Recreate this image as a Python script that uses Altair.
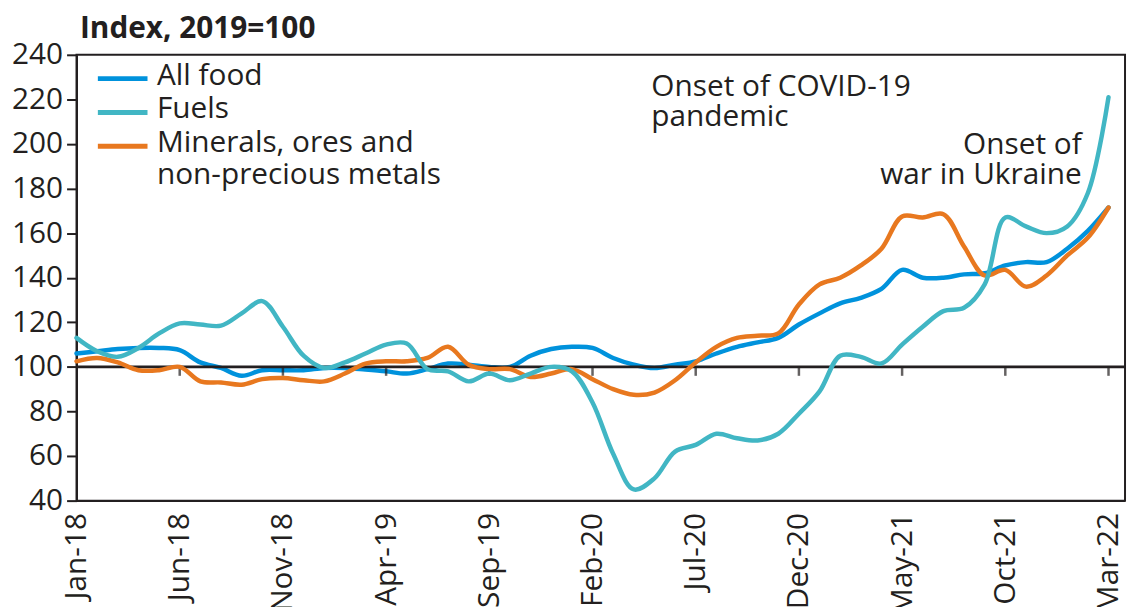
import json
import altair as alt
import pandas as pd

months = [
    "Jan-18", "Feb-18", "Mar-18", "Apr-18", "May-18", "Jun-18", "Jul-18", "Aug-18", "Sep-18", "Oct-18", "Nov-18", "Dec-18",
    "Jan-19", "Feb-19", "Mar-19", "Apr-19", "May-19", "Jun-19", "Jul-19", "Aug-19", "Sep-19", "Oct-19", "Nov-19", "Dec-19",
    "Jan-20", "Feb-20", "Mar-20", "Apr-20", "May-20", "Jun-20", "Jul-20", "Aug-20", "Sep-20", "Oct-20", "Nov-20", "Dec-20",
    "Jan-21", "Feb-21", "Mar-21", "Apr-21", "May-21", "Jun-21", "Jul-21", "Aug-21", "Sep-21", "Oct-21", "Nov-21", "Dec-21",
    "Jan-22", "Feb-22", "Mar-22",
]

all_food = [
    106, 107, 108, 108.5, 108.5, 107.5, 102, 99.5, 96, 98.5, 98.5, 98.5,
    99.5, 99.5, 98.8, 98, 97, 99, 101.5, 101, 100, 100, 105, 108,
    109, 108.5, 104, 101, 99.5, 101, 102.5, 106, 109, 111, 113, 119,
    124, 128.5, 131, 135, 143.5, 140, 140, 141.5, 142, 145.5, 147, 147,
    153, 161, 171.5,
]

fuels = [
    113, 107, 104.5, 108.5, 115, 119.5, 119, 118.5, 124, 129.5, 118, 105,
    99.5, 102, 106, 110, 110.5, 99, 98, 93.5, 97, 94, 97, 100,
    98, 84, 61, 45, 50, 62, 65, 70, 68, 67, 70, 79,
    89, 105, 104.5, 101.5, 110, 118, 125, 126.5, 137, 167, 163, 160,
    163, 178, 221,
]

minerals = [
    102.5, 104, 102, 98.5, 98.5, 100, 93.5, 93, 92, 94.5, 95, 94,
    93.5, 97, 101.5, 102.5, 102.5, 104, 109, 101, 99, 99, 95.5, 97,
    99, 94.5, 90, 87.5, 88.5, 94, 102, 109, 113, 114, 115, 128,
    137, 140, 145.5, 153, 167.5, 167, 168.5, 154, 141, 143.5, 136, 141,
    150, 158, 171.5,
]

tick_labels = ["Jan-18", "Jun-18", "Nov-18", "Apr-19", "Sep-19", "Feb-20",
               "Jul-20", "Dec-20", "May-21", "Oct-21", "Mar-22"]
y_ticks = [40, 60, 80, 100, 120, 140, 160, 180, 200, 220, 240]

series_names = ["All food", "Fuels", "Minerals, ores and non-precious metals"]
series_colors = ["#0092dc", "#41b6c4", "#e8781f"]

annotation_texts = ["Onset of COVID-19\npandemic", "Onset of\nwar in Ukraine"]
annotation_x = [27.85, 48.7]
annotation_y = [221.5, 195.5]

FONT = "Open Sans"
INK = "#231f20"
FS = 30

rows = []
for name, vals in zip(series_names, [all_food, fuels, minerals]):
    for i, (m, v) in enumerate(zip(months, vals)):
        rows.append({"idx": i, "month": m, "series": name, "value": v})
df = pd.DataFrame(rows)

tick_idx = [months.index(t) for t in tick_labels]
month_js = json.dumps(months)

x_scale = alt.Scale(domain=[0, 50.8], nice=False, zero=False)
y_scale = alt.Scale(domain=[40, 240], nice=False, zero=False)

x_axis = alt.Axis(
    values=tick_idx,
    labelExpr=f"{month_js}[datum.value]",
    labelAngle=-90, labelAlign="right", labelBaseline="middle",
    labelPadding=12, ticks=False, title=None, grid=False,
    labelFontSize=FS, labelFont=FONT, labelColor=INK, labelOverlap=False,
    domainColor=INK, domainWidth=2,
)
y_axis = alt.Axis(
    values=y_ticks, grid=False,
    title="Index, 2019=100", titleAngle=0, titleAlign="left",
    titleBaseline="alphabetic", titleX=3, titleY=-17,
    titleFontSize=30, titleFont=FONT, titleFontWeight="bold", titleColor=INK,
    labelFontSize=FS, labelFont=FONT, labelColor=INK, labelPadding=4,
    tickSize=10, tickWidth=2, tickColor=INK, labelOverlap=False,
    domainColor=INK, domainWidth=2,
)

X = lambda f: alt.X(f, scale=x_scale, axis=x_axis)
Y = lambda f: alt.Y(f, scale=y_scale, axis=y_axis)

color_scale = alt.Scale(domain=series_names, range=series_colors)
legend = alt.Legend(
    orient="none", legendX=19, legendY=20, title=None,
    symbolType="M-1,-0.24L1,-0.24", symbolStrokeWidth=5, symbolSize=2500,
    clipHeight=20, rowPadding=0,
    labelFontSize=FS, labelFont=FONT, labelColor=INK, labelLimit=0,
    labelOffset=7, labelBaseline="alphabetic",
    labelExpr="datum.label == 'Minerals, ores and non-precious metals' ? ['Minerals, ores and', 'non-precious metals'] : datum.label",
)

base = alt.Chart(df)


def series_layer(name):
    return base.transform_filter(alt.datum.series == name).mark_line(
        strokeWidth=4.5, interpolate="catmull-rom", strokeCap="round"
    ).encode(
        x=X("idx:Q"),
        y=Y("value:Q"),
        color=alt.Color("series:N", scale=color_scale, legend=legend),
    )


ref_df = pd.DataFrame({"v": [100]})
ref_rule = alt.Chart(ref_df).mark_rule(color=INK, strokeWidth=3).encode(y=Y("v:Q"))

tick_df = pd.DataFrame({"idx": tick_idx[1:], "v": [100] * (len(tick_idx) - 1)})
ref_ticks = alt.Chart(tick_df).mark_tick(
    orient="vertical", color=INK, size=9, thickness=2.5, yOffset=4.5
).encode(x=X("idx:Q"), y=Y("v:Q"))

ann_df = pd.DataFrame({"text": annotation_texts, "x": annotation_x, "y": annotation_y})
ann_left = alt.Chart(ann_df.iloc[[0]]).mark_text(
    align="left", baseline="alphabetic", fontSize=FS, font=FONT, color=INK,
    lineBreak="\n", lineHeight=30,
).encode(x=X("x:Q"), y=Y("y:Q"), text="text:N")
ann_right = alt.Chart(ann_df.iloc[[1]]).mark_text(
    align="right", baseline="alphabetic", fontSize=FS, font=FONT, color=INK,
    lineBreak="\n", lineHeight=30,
).encode(x=X("x:Q"), y=Y("y:Q"), text="text:N")

chart = alt.layer(
    series_layer(series_names[0]),
    ref_rule,
    ref_ticks,
    series_layer(series_names[2]),
    series_layer(series_names[1]),
    ann_left,
    ann_right,
).properties(
    width=1056, height=449,
    autosize=alt.AutoSizeParams(type="none"),
    padding={"left": 69, "top": 45, "right": 3, "bottom": 105},
).configure_view(
    stroke=INK, strokeWidth=2
)

chart.save("out.html", embed_options={"renderer": "svg", "actions": False})
